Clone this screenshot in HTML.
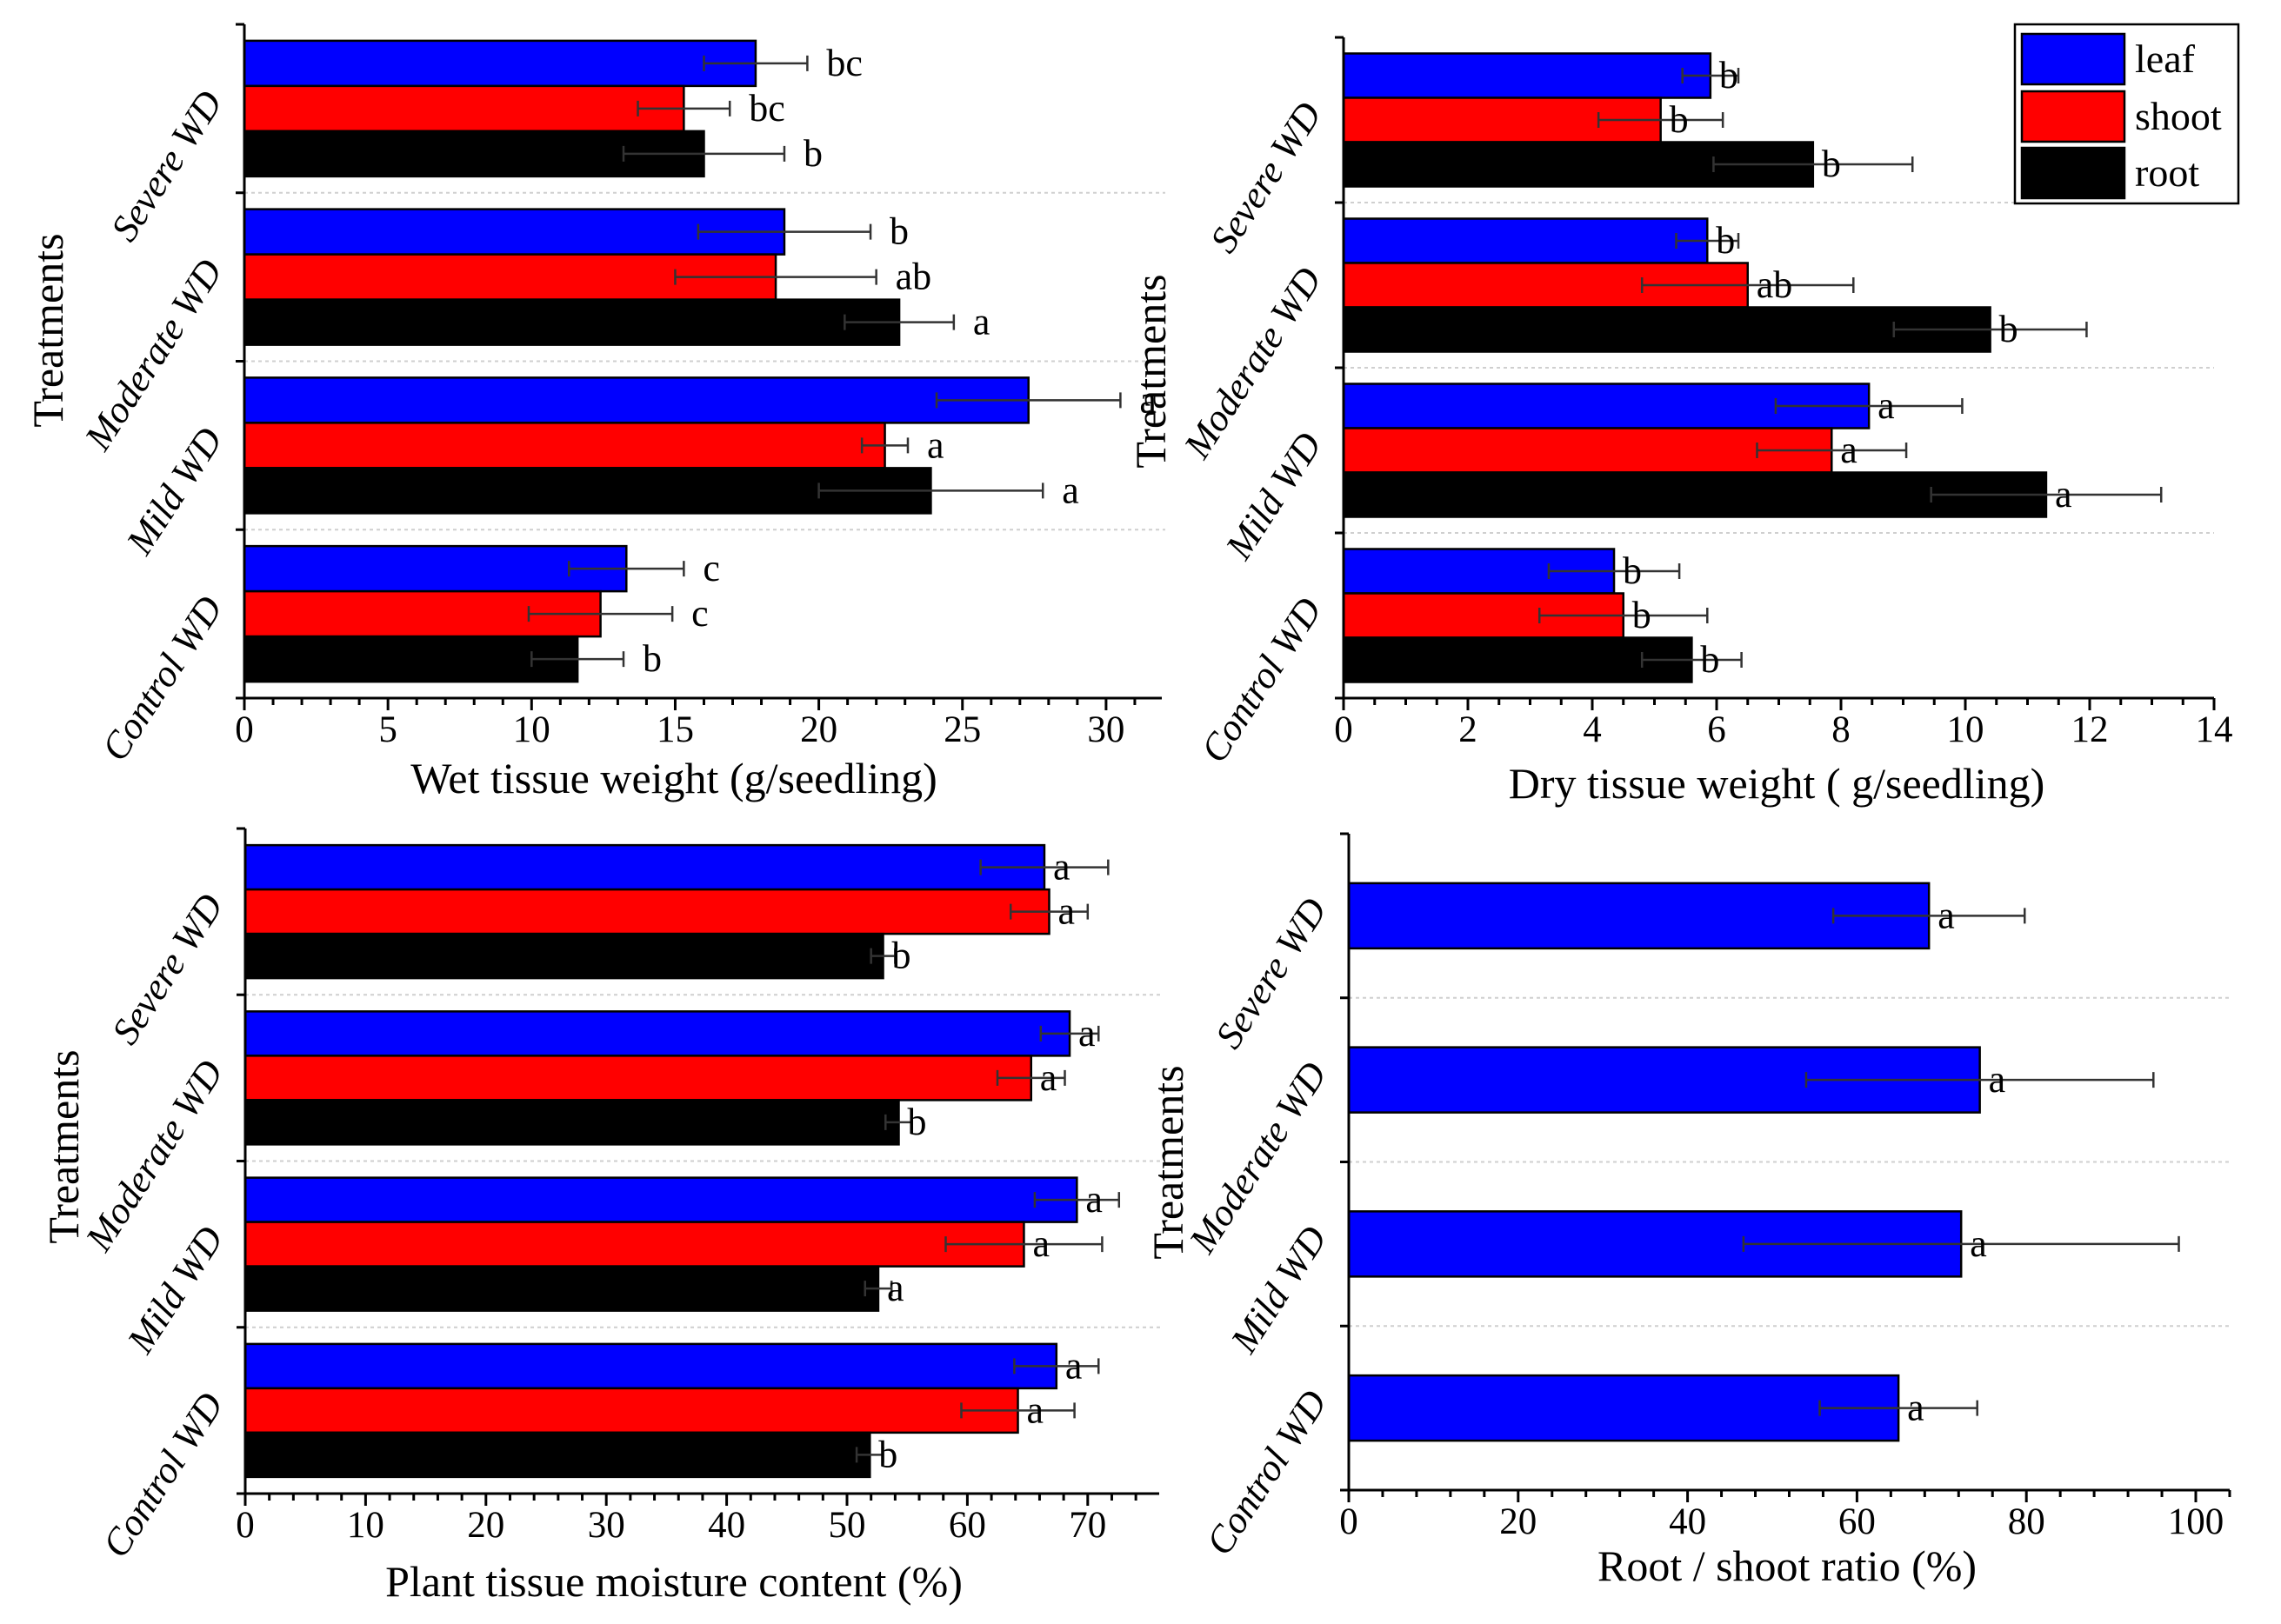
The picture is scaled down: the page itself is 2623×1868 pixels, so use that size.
<!DOCTYPE html>
<html><head><meta charset="utf-8"><style>
html,body{margin:0;padding:0;background:#fff;}
svg{display:block;font-family:"Liberation Serif",serif;}
</style></head><body>
<svg id="fig" width="2623" height="1868" viewBox="0 0 2623 1868" xmlns="http://www.w3.org/2000/svg"></svg>
<script>
const categories = ["Control WD","Mild WD","Moderate WD","Severe WD"];
const seriesNames = ["leaf","shoot","root"];
// Wet tissue weight (g/seedling): [control, mild, moderate, severe]
const wetLeaf = [13.3, 27.3, 18.8, 17.8];
const wetShoot = [12.4, 22.3, 18.5, 15.3];
const wetRoot = [11.6, 23.9, 22.8, 16.0];
const wetLeafErr = [2.0, 3.2, 3.0, 1.8];
const wetShootErr = [2.5, 0.8, 3.5, 1.6];
const wetRootErr = [1.6, 3.9, 1.9, 2.8];
const wetLeafLet = ["c","a","b","bc"];
const wetShootLet = ["c","a","ab","bc"];
const wetRootLet = ["b","a","a","b"];
const wetTicks = [0,5,10,15,20,25,30];
// Dry tissue weight
const dryLeaf = [4.35, 8.45, 5.85, 5.9];
const dryShoot = [4.5, 7.85, 6.5, 5.1];
const dryRoot = [5.6, 11.3, 10.4, 7.55];
const dryLeafErr = [1.05, 1.5, 0.5, 0.45];
const dryShootErr = [1.35, 1.2, 1.7, 1.0];
const dryRootErr = [0.8, 1.85, 1.55, 1.6];
const dryLeafLet = ["b","a","b","b"];
const dryShootLet = ["b","a","ab","b"];
const dryRootLet = ["b","a","b","b"];
const dryTicks = [0,2,4,6,8,10,12,14];
// Moisture content (%)
const moLeaf = [67.4, 69.1, 68.5, 66.4];
const moShoot = [64.2, 64.7, 65.3, 66.8];
const moRoot = [51.9, 52.6, 54.3, 53.0];
const moLeafErr = [3.5, 3.5, 2.4, 5.3];
const moShootErr = [4.7, 6.5, 2.8, 3.2];
const moRootErr = [1.1, 1.1, 1.1, 1.0];
const moLeafLet = ["a","a","a","a"];
const moShootLet = ["a","a","a","a"];
const moRootLet = ["b","a","b","b"];
const moTicks = [0,10,20,30,40,50,60,70];
// Root/shoot ratio (%)
const rsRatio = [64.9, 72.3, 74.5, 68.5];
const rsErr = [9.3, 25.7, 20.5, 11.3];
const rsLet = ["a","a","a","a"];
const rsTicks = [0,20,40,60,80,100];

const colors = ["#0000ff","#ff0000","#000000"];
const NS = "http://www.w3.org/2000/svg";
const svg = document.getElementById("fig");
function mk(tag, attrs, parent, text){
  const e = document.createElementNS(NS, tag);
  for (const k in attrs) e.setAttribute(k, attrs[k]);
  if (text !== undefined) e.textContent = text;
  (parent||svg).appendChild(e);
  return e;
}

function panel(cfg){
  const g = mk("g", {});
  
  
  const xs = v => cfg.x0 + v * cfg.unit;
  const n = categories.length;
  const gh = (cfg.bottom - cfg.top) / n;
  for (let i = 1; i < n; i++) {
    const y = cfg.top + i*gh;
    const l = mk("line", {x1: cfg.x0, x2: cfg.gridEnd, y1: y, y2: y, stroke: "#cfcfcf", "stroke-width": 2, "stroke-dasharray": "4 4"}, g);
    
    
  }
  for (let ci = 0; ci < n; ci++) {
    const gi = n - 1 - ci;
    const gTop = cfg.top + gi*gh;
    const nS = cfg.series.length;
    const startY = gTop + (gh - nS*cfg.barH)/2;
    for (let s = 0; s < nS; s++) {
      const v = cfg.series[s][ci], e = cfg.errs[s][ci];
      const y = startY + s*cfg.barH;
      const r = mk("rect", {x: cfg.x0, y: y, width: xs(v)-cfg.x0, height: cfg.barH, fill: cfg.colors[s], stroke: "#000", "stroke-width": 2.5}, g);
      
      
      const cy = y + cfg.barH/2;
      const eg = mk("g", {stroke: "#333", "stroke-width": 2.5}, g);
      
      
      mk("line", {x1: xs(v-e), x2: xs(v+e), y1: cy, y2: cy}, eg);
      mk("line", {x1: xs(v-e), x2: xs(v-e), y1: cy-9, y2: cy+9}, eg);
      mk("line", {x1: xs(v+e), x2: xs(v+e), y1: cy-9, y2: cy+9}, eg);
      const lx = cfg.letterMode === "err" ? xs(v+e) + 22 : xs(v) + 10;
      const t = mk("text", {x: lx, y: cy + 14, "font-size": 44, fill: "#000"}, g, cfg.letters[s][ci]);
      
      
    }
    const gc = gTop + gh/2;
    const cl = mk("text", {x: 0, y: 0, "font-size": 44, "font-style": "italic", "text-anchor": "end",
      transform: `translate(${cfg.x0-24},${gc-8}) rotate(-57)`}, g, categories[ci]);
    
    
  }
  const ax = mk("g", {stroke: "#000", "stroke-width": 3}, g);
  
  
  mk("line", {x1: cfg.x0, x2: cfg.x0, y1: cfg.top, y2: cfg.bottom}, ax);
  mk("line", {x1: cfg.x0, x2: cfg.axisEnd, y1: cfg.bottom, y2: cfg.bottom}, ax);
  for (let i = 0; i <= n; i++) mk("line", {x1: cfg.x0-10, x2: cfg.x0, y1: cfg.top+i*gh, y2: cfg.top+i*gh}, ax);
  for (let v = 0; xs(v) <= cfg.axisEnd + 0.5; v += cfg.minor) {
    const major = cfg.ticks.some(t => Math.abs(t - v) < 1e-6);
    mk("line", {x1: xs(v), x2: xs(v), y1: cfg.bottom, y2: cfg.bottom + (major ? 14 : 8)}, ax);
  }
  cfg.ticks.forEach(t => {
    const tl = mk("text", {x: xs(t), y: cfg.bottom + 50, "font-size": 43, "text-anchor": "middle"}, g, String(t));
    
    
  });
  const xt = mk("text", {x: cfg.titleX, y: cfg.titleY, "font-size": 50, "text-anchor": "middle"}, g, cfg.title);
  
  
  const yt = mk("text", {x: 0, y: 0, "font-size": 50, "text-anchor": "middle", transform: `translate(${cfg.ytX},${cfg.ytY}) rotate(-90)`}, g, "Treatments");
  
  
}

panel({name:"wet-weight-chart", x0:281, unit:33.03, top:28, bottom:803, axisEnd:1336, gridEnd:1340, barH:52,
  series:[wetLeaf,wetShoot,wetRoot], errs:[wetLeafErr,wetShootErr,wetRootErr], letters:[wetLeafLet,wetShootLet,wetRootLet],
  colors:colors, snames:seriesNames, ticks:wetTicks, minor:1, letterMode:"err",
  title:"Wet tissue weight (g/seedling)", titleX:775, titleY:912, ytX:72, ytY:380});
panel({name:"dry-weight-chart", x0:1545, unit:71.5, top:43, bottom:803, axisEnd:2546, gridEnd:2546, barH:51,
  series:[dryLeaf,dryShoot,dryRoot], errs:[dryLeafErr,dryShootErr,dryRootErr], letters:[dryLeafLet,dryShootLet,dryRootLet],
  colors:colors, snames:seriesNames, ticks:dryTicks, minor:0.5, letterMode:"bar",
  title:"Dry tissue weight ( g/seedling)", titleX:2043, titleY:918, ytX:1340, ytY:427});
panel({name:"moisture-chart", x0:282, unit:13.84, top:953, bottom:1718, axisEnd:1333, gridEnd:1335, barH:51,
  series:[moLeaf,moShoot,moRoot], errs:[moLeafErr,moShootErr,moRootErr], letters:[moLeafLet,moShootLet,moRootLet],
  colors:colors, snames:seriesNames, ticks:moTicks, minor:2, letterMode:"bar",
  title:"Plant tissue moisture content (%)", titleX:775, titleY:1836, ytX:90, ytY:1319});
panel({name:"root-shoot-ratio-chart", x0:1551, unit:9.74, top:959, bottom:1714, axisEnd:2564, gridEnd:2564, barH:75,
  series:[rsRatio], errs:[rsErr], letters:[rsLet],
  colors:["#0000ff"], snames:["ratio"], ticks:rsTicks, minor:4, letterMode:"bar",
  title:"Root / shoot ratio (%)", titleX:2055, titleY:1818, ytX:1360, ytY:1337});

const lg = mk("g", {});


mk("rect", {x:2317, y:28, width:257, height:206, fill:"#fff", stroke:"#000", "stroke-width":2.5}, lg);
const legY = [39, 105, 170];
seriesNames.forEach((s, i) => {
  const sw = mk("rect", {x:2325, y:legY[i], width:118, height:58, fill:colors[i], stroke:"#000", "stroke-width":2.5}, lg);
  
  
  const tx = mk("text", {x:2455, y:legY[i]+44, "font-size":46}, lg, s);
  
  
});
</script>
</body></html>
